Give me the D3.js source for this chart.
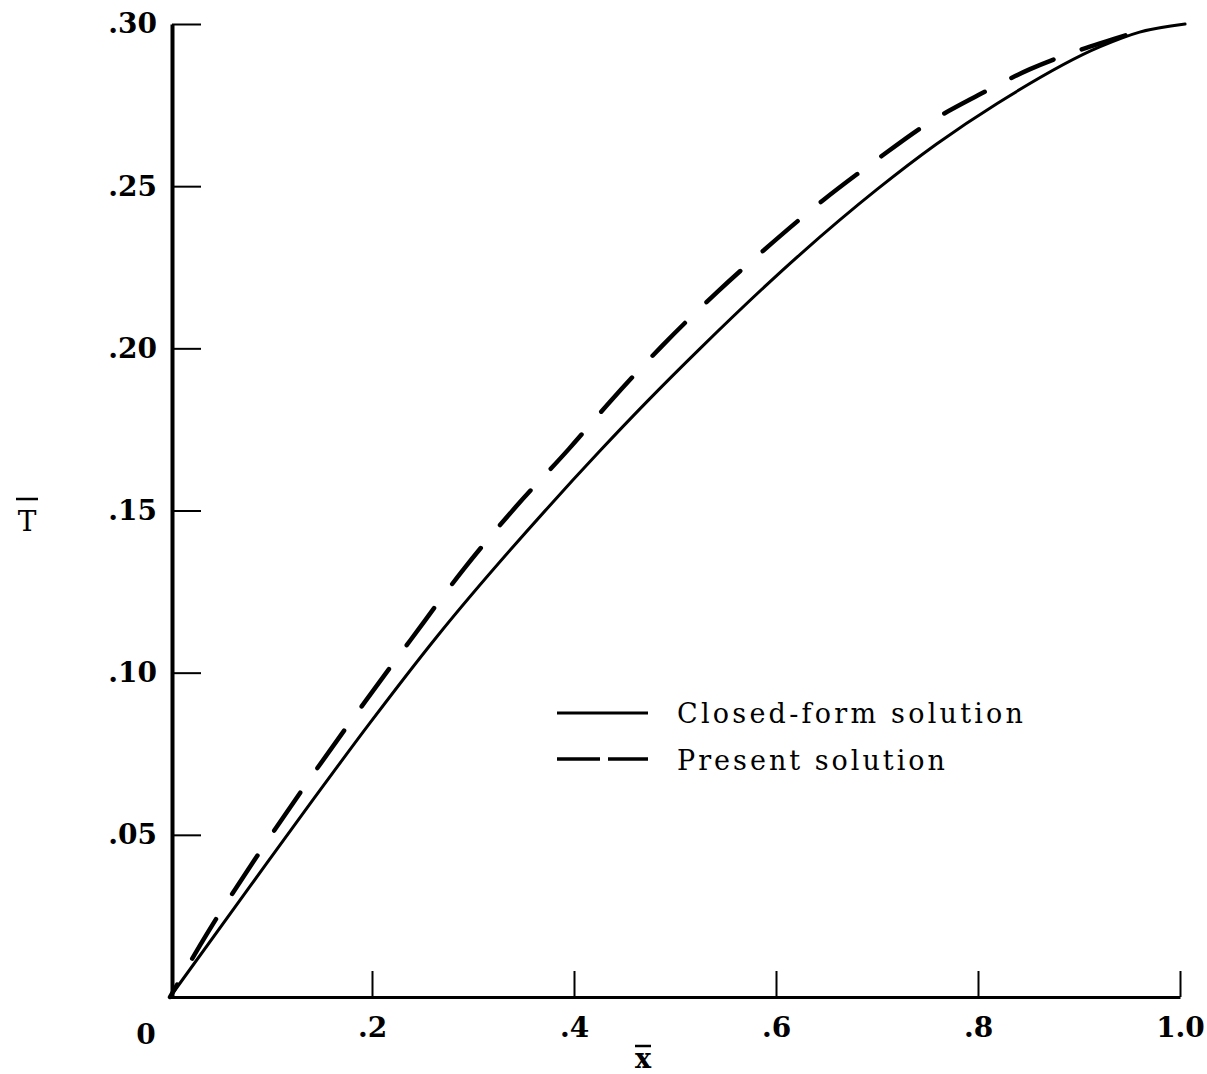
<!DOCTYPE html>
<html>
<head>
<meta charset="utf-8">
<script src="https://cdn.jsdelivr.net/npm/d3@7"></script>
<style>
  html, body { margin: 0; padding: 0; background: #fff; }
  svg { display: block; }
</style>
</head>
<body>
<script>
// ---- data ----
const closedX = [0, 0.079, 0.142, 0.198, 0.264, 0.373, 0.426, 0.472, 0.525, 0.624, 0.700, 0.759, 0.819, 0.921, 0.960, 1.005];
const closedT = [0, 0.034, 0.061, 0.0845, 0.111, 0.1505, 0.1685, 0.1835, 0.2000, 0.229, 0.249, 0.263, 0.2755, 0.293, 0.2975, 0.300];
const presentX = [0, 0.037, 0.087, 0.139, 0.193, 0.238, 0.291, 0.342, 0.395, 0.437, 0.487, 0.542, 0.587, 0.646, 0.699, 0.751, 0.800, 0.851, 0.901, 0.946];
const presentT = [0, 0.0197, 0.0438, 0.0675, 0.091, 0.110, 0.132, 0.151, 0.169, 0.184, 0.2007, 0.2174, 0.230, 0.2455, 0.258, 0.2695, 0.278, 0.286, 0.292, 0.2965];
const xTicks = [0.2, 0.4, 0.6, 0.8, 1.0];
const xTickLabels = [".2", ".4", ".6", ".8", "1.0"];
const yTicks = [0.05, 0.10, 0.15, 0.20, 0.25, 0.30];
const yTickLabels = [".05", ".10", ".15", ".20", ".25", ".30"];
const seriesNames = ["Closed-form solution", "Present solution"];

const W = 1207, H = 1074;
const svg = d3.select("body").append("svg").attr("width", W).attr("height", H);

const x = d3.scaleLinear().domain([0, 1]).range([170, 1180]);
const y = d3.scaleLinear().domain([0, 0.30]).range([997, 24]);

const serif = "'DejaVu Serif', serif";
const tickFont = 28;

// x axis
const xAxis = d3.axisBottom(x)
  .tickValues(xTicks)
  .tickFormat((d, i) => xTickLabels[i])
  .tickSizeInner(-26)
  .tickSizeOuter(0)
  .tickPadding(20);
const gx = svg.append("g").attr("transform", `translate(0,${y(0)})`).call(xAxis);
gx.select(".domain").attr("stroke", "#000").attr("stroke-width", 3);
gx.selectAll(".tick line").attr("stroke", "#000").attr("stroke-width", 2);
gx.selectAll(".tick text")
  .attr("font-family", serif).attr("font-weight", "bold").attr("font-size", tickFont).attr("fill", "#000");

// y axis
const yAxis = d3.axisLeft(y)
  .tickValues(yTicks)
  .tickFormat((d, i) => yTickLabels[i])
  .tickSizeInner(-29)
  .tickSizeOuter(0)
  .tickPadding(15);
const gy = svg.append("g").attr("transform", `translate(${x(0) + 2},0)`).call(yAxis);
gy.select(".domain").attr("stroke", "#000").attr("stroke-width", 4);
gy.selectAll(".tick line").attr("stroke", "#000").attr("stroke-width", 2);
gy.selectAll(".tick text")
  .attr("font-family", serif).attr("font-weight", "bold").attr("font-size", tickFont).attr("fill", "#000");

// origin label
svg.append("text")
  .attr("x", x(0) - 24).attr("y", y(0) + 47)
  .attr("text-anchor", "middle")
  .attr("font-family", serif).attr("font-weight", "bold").attr("font-size", tickFont)
  .text("0");

// axis titles with overbars
svg.append("text")
  .attr("x", 643).attr("y", 1068)
  .attr("text-anchor", "middle")
  .attr("font-family", serif).attr("font-weight", "bold").attr("font-size", 27)
  .text("x");
svg.append("line").attr("x1", 635).attr("x2", 651).attr("y1", 1046).attr("y2", 1046)
  .attr("stroke", "#000").attr("stroke-width", 2.5);

svg.append("text")
  .attr("x", 27).attr("y", 531)
  .attr("text-anchor", "middle")
  .attr("font-family", serif).attr("font-size", 28)
  .text("T");
svg.append("line").attr("x1", 16).attr("x2", 38).attr("y1", 499).attr("y2", 499)
  .attr("stroke", "#000").attr("stroke-width", 2.5);

// curves
const line = d3.line().x(d => x(d[0])).y(d => y(d[1])).curve(d3.curveMonotoneX);
const closedData = closedX.map((v, i) => [v, closedT[i]]);
const presentData = presentX.map((v, i) => [v, presentT[i]]);

svg.append("path").datum(closedData).attr("d", line)
  .attr("fill", "none").attr("stroke", "#000").attr("stroke-width", 3)
  .attr("stroke-linecap", "round");

const dashLen = 46, gapLen = 30, period = dashLen + gapLen;
const dashed = svg.append("path").datum(presentData).attr("d", line)
  .attr("fill", "none").attr("stroke", "#000").attr("stroke-width", 4.5)
  .attr("stroke-linecap", "round")
  .attr("stroke-dasharray", `${dashLen},${gapLen}`);
const L = dashed.node().getTotalLength();
const off = (((dashLen - L) % period) + period) % period;
dashed.attr("stroke-dashoffset", off);

// legend
const lg = svg.append("g");
lg.append("line").attr("x1", 557).attr("x2", 648).attr("y1", 713).attr("y2", 713)
  .attr("stroke", "#000").attr("stroke-width", 3);
lg.append("line").attr("x1", 557).attr("x2", 648).attr("y1", 759).attr("y2", 759)
  .attr("stroke", "#000").attr("stroke-width", 3.5)
  .attr("stroke-dasharray", "43,8");
lg.append("text").attr("x", 677).attr("y", 723)
  .attr("font-family", serif).attr("font-size", 27)
  .attr("textLength", 346).attr("lengthAdjust", "spacing")
  .text(seriesNames[0]);
lg.append("text").attr("x", 677).attr("y", 770)
  .attr("font-family", serif).attr("font-size", 27)
  .attr("textLength", 268).attr("lengthAdjust", "spacing")
  .text(seriesNames[1]);
</script>
</body>
</html>
